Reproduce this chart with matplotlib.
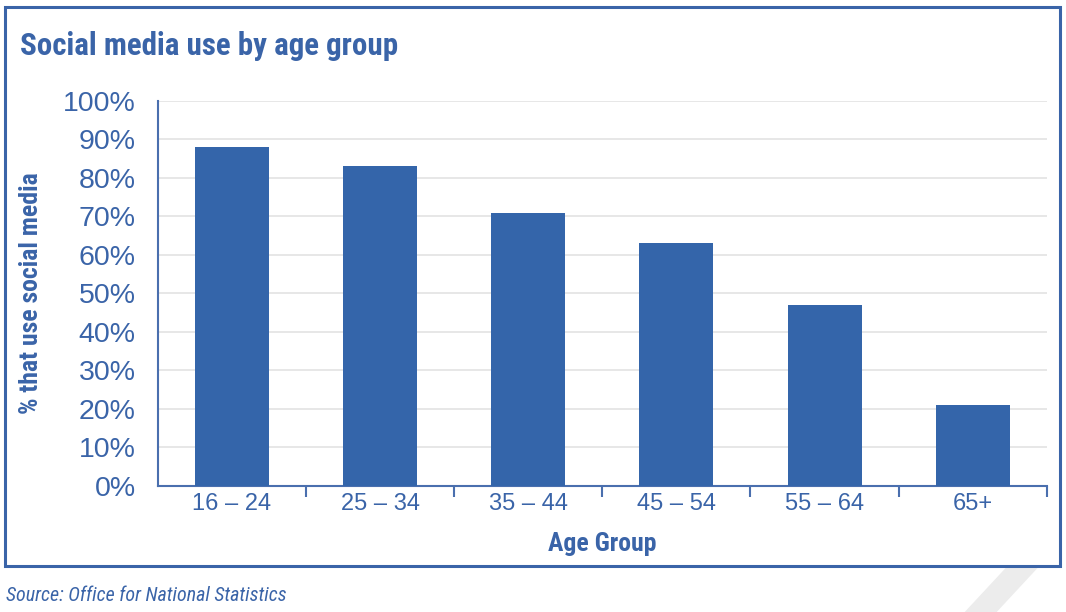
import matplotlib.pyplot as plt
from matplotlib.patches import Rectangle, Polygon
import numpy as np

age_groups = ["16 – 24", "25 – 34", "35 – 44", "45 – 54", "55 – 64", "65+"]
share_pct = [88, 83, 71, 63, 47, 21]
y_ticks = list(range(0, 101, 10))

blue = "#3465aa"
text_blue = "#3a64a8"
narrow = ["Roboto Condensed", "Liberation Sans Narrow", "Liberation Sans", "DejaVu Sans"]
regular = ["Liberation Sans", "DejaVu Sans"]

fig = plt.figure(figsize=(10.66, 6.12), dpi=100)

# outer frame and the light decorative shape, kept behind the axes
fig.patches.append(Polygon([(0.905, 0.0), (0.945, 0.075), (0.975, 0.075), (0.935, 0.0)],
                           closed=True, transform=fig.transFigure,
                           facecolor="#ececec", edgecolor="none", zorder=-2))
fig.patches.append(Rectangle((0.005, 0.075), 0.989, 0.914, transform=fig.transFigure,
                             facecolor="white", edgecolor=text_blue, linewidth=2.2,
                             zorder=-1))

ax = fig.add_axes([0.148, 0.206, 0.834, 0.629])
ax.patch.set_alpha(0)

x = np.arange(len(age_groups))
ax.bar(x, share_pct, width=0.5, color=blue, zorder=3)

ax.set_xlim(-0.5, len(age_groups) - 0.5)
ax.set_ylim(0, 100)
ax.set_yticks(y_ticks)
ax.set_yticklabels([f"{v}%" for v in y_ticks], fontsize=20.5, color=text_blue,
                   family=regular)
ax.tick_params(axis="y", length=0, pad=16)
ax.yaxis.grid(True, color="#e3e3e3", linewidth=1.2, zorder=0)

ax.set_xticks(x)
ax.set_xticklabels(age_groups, fontsize=17, color=text_blue, family=regular)
ax.set_xticks(np.arange(0.5, len(age_groups)), minor=True)
ax.tick_params(axis="x", which="major", length=0, pad=5)
ax.tick_params(axis="x", which="minor", length=8, width=1.5, color="#4a6fae")

for side in ["top", "right"]:
    ax.spines[side].set_visible(False)
for side in ["left", "bottom"]:
    ax.spines[side].set_color("#4a6fae")
    ax.spines[side].set_linewidth(1.5)

ax.set_xlabel("Age Group", fontsize=18.5, color=text_blue, fontweight="bold",
              family=narrow, labelpad=12)
ax.set_ylabel("% that use social media", fontsize=18.5, color=text_blue,
              fontweight="bold", family=narrow, labelpad=14)

fig.text(0.019, 0.925, "Social media use by age group", fontsize=22.3,
         color=text_blue, fontweight="bold", family=narrow, va="center")
fig.text(0.006, 0.027, "Source: Office for National Statistics", fontsize=14.4,
         color=text_blue, style="italic", family=narrow, va="center")

fig.savefig("out.png", dpi=100)
